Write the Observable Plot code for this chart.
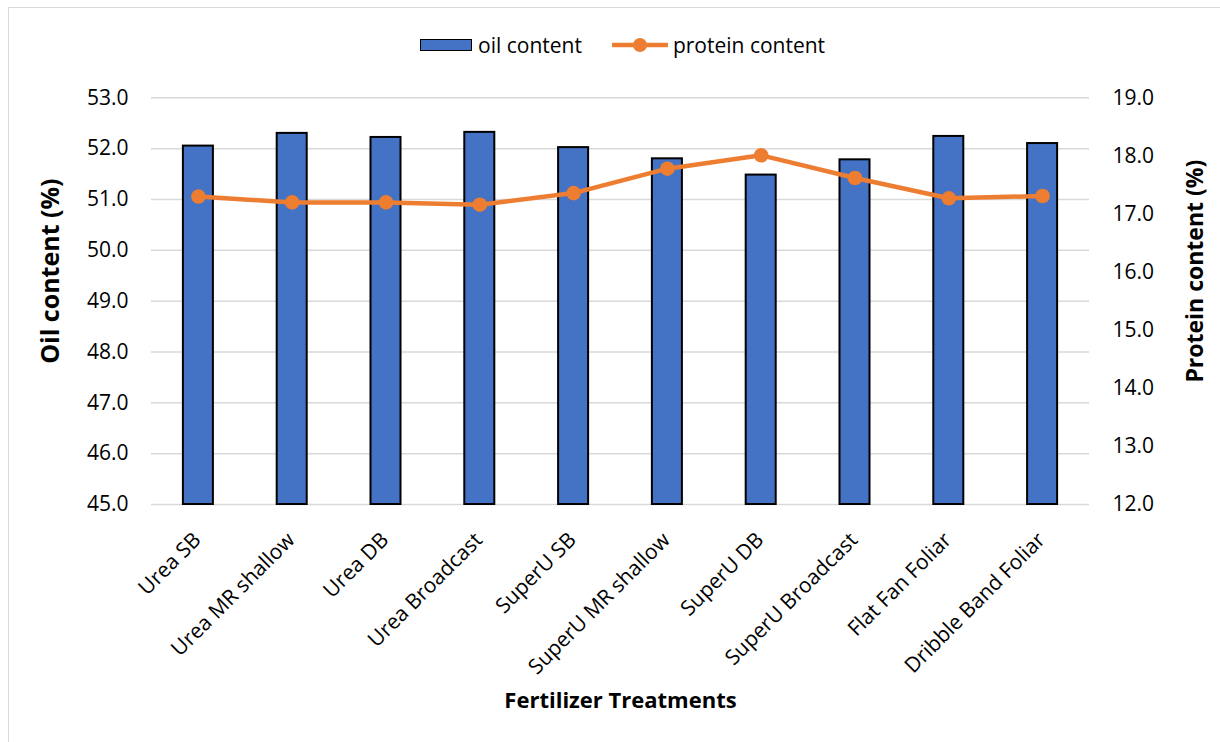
<!DOCTYPE html>
<html>
<head>
<meta charset="utf-8">
<script src="https://cdn.jsdelivr.net/npm/d3@7"></script>
<script src="https://cdn.jsdelivr.net/npm/@observablehq/plot@0.6"></script>
<style>
  html, body { margin: 0; padding: 0; background: #fff; overflow: hidden; }
  #page { position: relative; width: 1220px; height: 742px; overflow: hidden; font-family: "Open Sans", sans-serif; color: #000; }
  #border { position: absolute; left: 8px; top: 7px; width: 1240px; height: 760px; border: 1.5px solid #d9d9d9; box-sizing: border-box; }
  #legend { position: absolute; left: 420px; top: 32px; height: 26px; display: flex; align-items: center; font-size: 21px; white-space: nowrap; }
  #legend .bar { width: 50px; height: 10px; background: #4472C4; border: 1.8px solid #000; }
  #chart { position: absolute; left: 0; top: 70px; }
</style>
</head>
<body>
<div id="page">
  <div id="border"></div>
  <div id="legend">
    <span class="bar"></span><span style="margin-left:6px">oil content</span>
    <svg width="56" height="18" style="margin-left:30px"><line x1="1" y1="9" x2="55" y2="9" stroke="#ED7D31" stroke-width="4.5" stroke-linecap="round"/><circle cx="28" cy="9" r="7" fill="#ED7D31"/></svg>
    <span style="margin-left:5px">protein content</span>
  </div>
  <div id="chart"></div>
</div>
<script>
const categories = ["Urea SB", "Urea MR shallow", "Urea DB", "Urea Broadcast", "SuperU SB",
  "SuperU MR shallow", "SuperU DB", "SuperU Broadcast", "Flat Fan Foliar", "Dribble Band Foliar"];
const oilContent = [52.05, 52.30, 52.22, 52.32, 52.02, 51.80, 51.48, 51.78, 52.24, 52.10];
const proteinContent = [17.30, 17.20, 17.20, 17.16, 17.36, 17.78, 18.01, 17.62, 17.27, 17.31];
const oilTicks = [45, 46, 47, 48, 49, 50, 51, 52, 53];
const proteinTicks = [12, 13, 14, 15, 16, 17, 18, 19];

const oilDomain = [45, 53];
const proteinDomain = [12, 19];
const toOil = p => oilDomain[0] + (p - proteinDomain[0]) * (oilDomain[1] - oilDomain[0]) / (proteinDomain[1] - proteinDomain[0]);
const fromOil = o => proteinDomain[0] + (o - oilDomain[0]) * (proteinDomain[1] - proteinDomain[0]) / (oilDomain[1] - oilDomain[0]);

const rows = categories.map((c, i) => ({cat: c, oil: oilContent[i], protein: proteinContent[i]}));

const chart = Plot.plot({
  width: 1220,
  height: 672,
  marginLeft: 151,
  marginRight: 131,
  marginTop: 27.3,
  marginBottom: 238,
  style: {fontFamily: "Open Sans, sans-serif", fontSize: "21px", color: "#000", background: "transparent", overflow: "visible"},
  x: {domain: categories, paddingInner: 0.68, paddingOuter: 0.34, round: false, axis: null},
  y: {domain: oilDomain, axis: null},
  marks: [
    Plot.gridY(oilTicks, {stroke: "#d9d9d9", strokeOpacity: 1, strokeWidth: 1.5}),
    Plot.barY(rows, {x: "cat", y1: oilDomain[0], y2: "oil", fill: "#4472C4", stroke: "#000", strokeWidth: 2}),
    Plot.line(rows, {x: "cat", y: d => toOil(d.protein), stroke: "#ED7D31", strokeWidth: 4.5, strokeLinejoin: "round", strokeLinecap: "round"}),
    Plot.dot(rows, {x: "cat", y: d => toOil(d.protein), r: 7.3, fill: "#ED7D31", stroke: "none"}),
    Plot.axisY(oilTicks, {anchor: "left", tickSize: 0, tickPadding: 23, tickFormat: d => d.toFixed(1), fontSize: 21, label: null}),
    Plot.axisY(proteinTicks.map(toOil), {anchor: "right", tickSize: 0, tickPadding: 23, tickFormat: d => fromOil(d).toFixed(1), fontSize: 21, label: null}),
    Plot.axisX(categories, {tickRotate: -45, tickSize: 0, tickPadding: 32, dx: -1, fontSize: 21, label: null}),
    Plot.text(["Oil content (%)"], {frameAnchor: "left", textAnchor: "middle", lineAnchor: "middle", rotate: -90, dx: -101, dy: -30, fontWeight: "bold", fontSize: 25}),
    Plot.text(["Protein content (%)"], {frameAnchor: "right", textAnchor: "middle", lineAnchor: "middle", rotate: -90, dx: 106, dy: -30, fontWeight: "bold", fontSize: 23}),
    Plot.text(["Fertilizer Treatments"], {frameAnchor: "bottom", textAnchor: "middle", lineAnchor: "middle", dy: 196, fontWeight: "bold", fontSize: 22})
  ]
});
document.getElementById("chart").appendChild(chart);
</script>
</body>
</html>
